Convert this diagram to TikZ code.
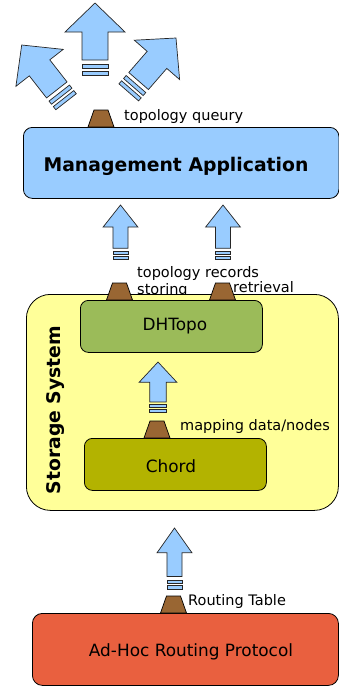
\documentclass[tikz,border=0pt]{standalone}
\usepackage{fontspec}
\setmainfont{DejaVu Sans}
\definecolor{arrblue}{HTML}{99CCFF}
\definecolor{portbrown}{HTML}{996633}
\definecolor{storeyellow}{HTML}{FFFF99}
\definecolor{dhgreen}{HTML}{9BBB59}
\definecolor{chordolive}{HTML}{B3B300}
\definecolor{adhocred}{HTML}{E9603F}
\newcommand\UpArr[5]{%
\begin{scope}[shift={(#1,#2)}, rotate=#3, xscale=#4, yscale=#5]
 \draw[arr] (0,0) -- (30,29) -- (13,29) -- (13,57) -- (-13,57) -- (-13,29) -- (-30,29) -- cycle;
 \draw[arr] (-13,61) rectangle (13,65);
 \draw[arr] (-13,68) rectangle (13,72);
\end{scope}}
\newcommand\Port[2]{\draw[port] (#1-13,#2) -- (#1-7,#2-17) -- (#1+7,#2-17) -- (#1+13,#2) -- cycle;}
\tikzset{
 arr/.style={draw=black!85, fill=arrblue, line width=0.7pt, line join=miter},
 port/.style={draw=black, fill=portbrown, line width=0.7pt},
 box/.style={draw=black, line width=0.8pt, rounded corners=9pt, inner sep=0pt},
 small/.style={font=\fontsize{14.5}{16}\selectfont, inner sep=0pt},
 mid/.style={font=\fontsize{16.9}{19}\selectfont, inner sep=0pt},
 big/.style={font=\fontsize{18.8}{22}\selectfont\bfseries, inner sep=0pt},
}
\begin{document}
\begin{tikzpicture}[x=1pt,y=-1pt]
\useasboundingbox (0,0) rectangle (339,686);
% output arrows at top
\UpArr{95}{3}{0}{1}{1}
\UpArr{21.7}{45}{38}{1}{1}
\UpArr{176}{38}{-41}{1}{1}
% arrows between layers
\UpArr{120.5}{205}{0}{0.58}{0.76}
\UpArr{223}{205}{0}{0.58}{0.76}
\UpArr{174.5}{528}{0}{0.58}{0.85}
% labels
\node[small, anchor=base west] (lquery) at (124,120) {topology queury};
\node[small, anchor=base west] (lrec) at (137,277) {topology records};
\node[small, anchor=base west] (lstore) at (137,294) {storing};
\node[small, anchor=base west] (lret) at (233,292) {retrieval};
\node[small, anchor=base west] (lrt) at (188,605) {Routing Table};
% boxes
\node[box, fill=arrblue, minimum width=315.5pt, minimum height=71pt, anchor=north west] (mgmt) at (23,127) {};
\node[big] (mgmttext) at (176,166) {Management Application};
\node[box, fill=storeyellow, rounded corners=24pt, minimum width=312pt, minimum height=216pt, anchor=north west] (store) at (26,294) {};
\node[big, rotate=90] (storetext) at (56,410) {Storage System};
\UpArr{158}{362}{0}{0.63}{0.7}
\node[small, anchor=base west] (lmap) at (180,430) {mapping data/nodes};
\node[box, fill=dhgreen, rounded corners=8pt, minimum width=182pt, minimum height=52pt, anchor=north west] (dht) at (80,300) {};
\node[mid] (dhttext) at (175,326) {DHTopo};
\node[box, fill=chordolive, rounded corners=8pt, minimum width=182pt, minimum height=52pt, anchor=north west] (chord) at (84,438) {};
\node[mid] (chordtext) at (171,466) {Chord};
\node[box, fill=adhocred, rounded corners=10pt, minimum width=306pt, minimum height=72pt, anchor=north west] (adhoc) at (32,613) {};
\node[mid] (adhoctext) at (191,652) {Ad-Hoc Routing Protocol};
% ports
\Port{101}{127}
\Port{119.5}{300}
\Port{222.5}{300}
\Port{157}{438}
\Port{173.5}{613}
\end{tikzpicture}
\end{document}
